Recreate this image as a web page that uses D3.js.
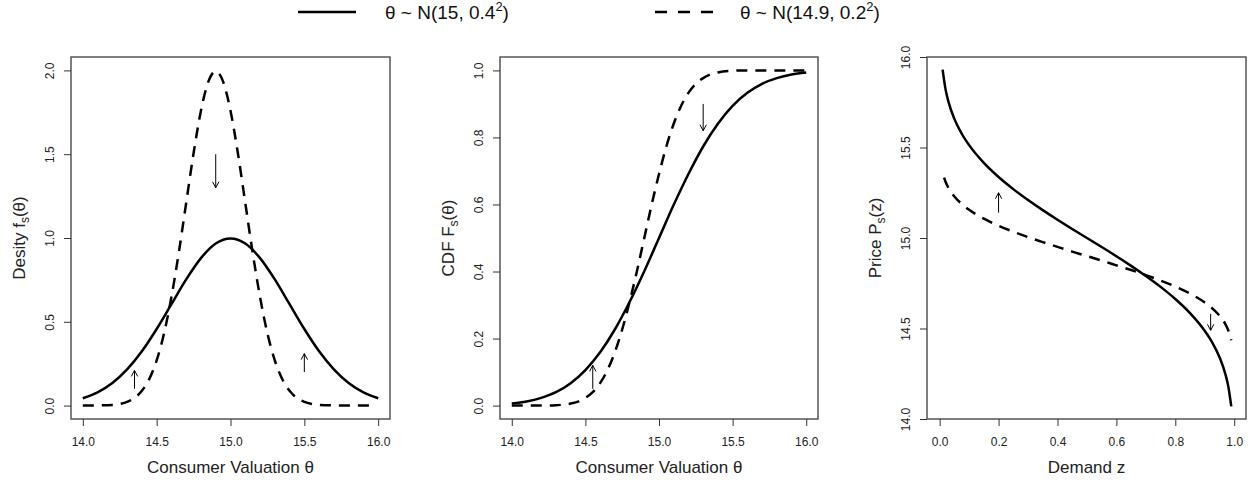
<!DOCTYPE html>
<html><head><meta charset="utf-8">
<script src="https://cdn.jsdelivr.net/npm/d3@7"></script>
<style>body{margin:0;background:#fff}svg{display:block}text{font-family:"Liberation Sans",Arial,sans-serif}</style>
</head><body>
<svg id="c" width="1258" height="484"></svg>
<script>
// ---- data ----
const legendLabels = [["θ ~ N(15, 0.4", "2", ")"], ["θ ~ N(14.9, 0.2", "2", ")"]];

// Panel 1: density
const densX_solid = [14.0,14.1,14.2,14.3,14.4,14.5,14.6,14.7,14.8,14.9,15.0,15.1,15.2,15.3,15.4,15.5,15.6,15.7,15.8,15.9,16.0];
const densY_solid = [0.044,0.079,0.135,0.216,0.324,0.457,0.605,0.753,0.880,0.967,0.997,0.967,0.880,0.753,0.605,0.457,0.324,0.216,0.135,0.079,0.044];
const densX_dash = [14.0,14.1,14.2,14.25,14.3,14.35,14.4,14.45,14.5,14.55,14.6,14.65,14.7,14.75,14.8,14.85,14.9,14.95,15.0,15.05,15.1,15.15,15.2,15.25,15.3,15.35,15.4,15.45,15.5,15.55,15.6,15.7,15.8,15.95];
const densY_dash = [0.0,0.001,0.004,0.010,0.022,0.045,0.088,0.159,0.270,0.431,0.648,0.913,1.210,1.506,1.760,1.933,1.995,1.933,1.760,1.506,1.210,0.913,0.648,0.431,0.270,0.159,0.088,0.045,0.022,0.010,0.004,0.001,0.0,0.0];

// Panel 2: CDF
const cdfX_solid = densX_solid;
const cdfY_solid = [0.006,0.012,0.023,0.040,0.067,0.106,0.159,0.227,0.309,0.401,0.500,0.599,0.691,0.773,0.841,0.894,0.933,0.960,0.977,0.988,0.994];
const cdfX_dash = [14.0,14.1,14.2,14.3,14.35,14.4,14.45,14.5,14.55,14.6,14.65,14.7,14.75,14.8,14.85,14.9,14.95,15.0,15.05,15.1,15.15,15.2,15.25,15.3,15.35,15.4,15.5,15.6,15.8,16.0];
const cdfY_dash = [0.0,0.0,0.0,0.001,0.003,0.006,0.012,0.023,0.040,0.067,0.106,0.159,0.227,0.309,0.401,0.500,0.599,0.691,0.773,0.841,0.894,0.933,0.960,0.977,0.988,0.994,0.999,1.0,1.0,1.0];

// Panel 3: inverse demand
const demZ_solid = [0.01,0.02,0.03,0.05,0.075,0.1,0.15,0.2,0.25,0.3,0.35,0.4,0.45,0.5,0.55,0.6,0.65,0.7,0.75,0.8,0.85,0.9,0.925,0.95,0.97,0.98,0.99];
const demP_solid = [15.930,15.821,15.752,15.658,15.576,15.513,15.415,15.337,15.270,15.210,15.154,15.101,15.050,15.000,14.950,14.899,14.846,14.790,14.730,14.663,14.585,14.487,14.424,14.342,14.248,14.179,14.070];
const demZ_dash = [0.015,0.02,0.03,0.05,0.075,0.1,0.15,0.2,0.25,0.3,0.35,0.4,0.45,0.5,0.55,0.6,0.65,0.7,0.75,0.8,0.85,0.9,0.925,0.95,0.97,0.98,0.99];
const demP_dash = [15.334,15.311,15.276,15.229,15.188,15.156,15.107,15.068,15.035,15.005,14.977,14.951,14.925,14.900,14.875,14.849,14.823,14.795,14.765,14.732,14.693,14.644,14.612,14.571,14.524,14.489,14.435];

// tick values
const thetaTicks = [14.0,14.5,15.0,15.5,16.0];
const densTicks = [0.0,0.5,1.0,1.5,2.0];
const cdfTicks = [0.0,0.2,0.4,0.6,0.8,1.0];
const zTicks = [0.0,0.2,0.4,0.6,0.8,1.0];
const priceTicks = [14.0,14.5,15.0,15.5,16.0];

// arrows [x, yFrom, yTo]
const arrows1 = [[14.9,1.50,1.30],[14.35,0.10,0.21],[15.5,0.20,0.31]];
const arrows2 = [[14.55,0.05,0.12],[15.3,0.90,0.82]];
const arrows3 = [[0.2,15.14,15.25],[0.92,14.58,14.49]];

// ---- drawing ----
const svg = d3.select("#c");
const fmt = d3.format(".1f");
const DASH = "11,8";

function panel(o){
  const g = svg.append("g");
  const x = d3.scaleLinear().domain(o.xd).range([o.l, o.r]);
  const y = d3.scaleLinear().domain(o.yd).range([o.b, o.t]);
  const line = d3.line().x(d=>x(d[0])).y(d=>y(d[1])).curve(d3.curveMonotoneX);
  o.series.forEach(s=>{
    g.append("path").datum(s.x.map((v,i)=>[v,s.y[i]]))
      .attr("d", line).attr("fill","none").attr("stroke","#000")
      .attr("stroke-width",2.5).attr("stroke-dasharray", s.dash ? DASH : null);
  });
  // arrows
  o.arrows.forEach(a=>{
    const x0=x(a[0]), y0=y(a[1]), y1=y(a[2]);
    const dir = y1<y0 ? 1 : -1;
    const hl=6, hw=3.2;
    g.append("path").attr("d",`M${x0},${y0}L${x0},${y1}M${x0-hw},${y1+dir*hl}L${x0},${y1}L${x0+hw},${y1+dir*hl}`)
      .attr("fill","none").attr("stroke","#000").attr("stroke-width",1);
  });
  // box
  g.append("rect").attr("x",o.l).attr("y",o.t).attr("width",o.r-o.l).attr("height",o.b-o.t)
    .attr("fill","none").attr("stroke","#555").attr("stroke-width",1.5);
  // x axis
  const xa = g.append("g").attr("transform",`translate(0,${o.b})`)
    .call(d3.axisBottom(x).tickValues(o.xt).tickFormat(fmt).tickSize(7).tickPadding(4));
  xa.select(".domain").remove();
  xa.selectAll(".tick line").attr("stroke","#333");
  xa.selectAll(".tick text").attr("font-size",12).attr("fill","#222").attr("font-family","Liberation Sans, Arial, sans-serif")
    .attr("dy",null).attr("y",26.5);
  // y axis
  const ya = g.append("g").attr("transform",`translate(${o.l},0)`)
    .call(d3.axisLeft(y).tickValues(o.yt).tickFormat(fmt).tickSize(7));
  ya.select(".domain").remove();
  ya.selectAll(".tick line").attr("stroke","#333");
  ya.selectAll(".tick text").attr("font-size",12).attr("fill","#222").attr("font-family","Liberation Sans, Arial, sans-serif")
    .attr("x",null).attr("dy",null).attr("text-anchor","middle")
    .attr("transform","translate(-17,0) rotate(-90)");
  // titles
  g.append("text").attr("x",(o.l+o.r)/2).attr("y",473).attr("text-anchor","middle")
    .attr("font-size",17).attr("fill","#222").text(o.xTitle);
  const yt = g.append("text").attr("transform",`translate(${o.l-46},${(o.t+o.b)/2}) rotate(-90)`)
    .attr("text-anchor","middle").attr("font-size",17).attr("fill","#222");
  yt.append("tspan").text(o.yTitle[0]);
  yt.append("tspan").attr("font-size",12).attr("dy",4).text(o.yTitle[1]);
  yt.append("tspan").attr("dy",-4).text(o.yTitle[2]);
}

panel({l:71,r:390,t:57,b:419,xd:[13.92,16.08],yd:[-0.08,2.08],xt:thetaTicks,yt:densTicks,
  series:[{x:densX_solid,y:densY_solid},{x:densX_dash,y:densY_dash,dash:true}],
  arrows:arrows1,xTitle:"Consumer Valuation θ",yTitle:["Desity f","s","(θ)"]});
panel({l:500,r:818,t:57,b:419,xd:[13.92,16.08],yd:[-0.04,1.04],xt:thetaTicks,yt:cdfTicks,
  series:[{x:cdfX_solid,y:cdfY_solid},{x:cdfX_dash,y:cdfY_dash,dash:true}],
  arrows:arrows2,xTitle:"Consumer Valuation θ",yTitle:["CDF F","s","(θ)"]});
panel({l:927,r:1246,t:57,b:419,xd:[-0.043,1.04],yd:[14,16],xt:zTicks,yt:priceTicks,
  series:[{x:demZ_solid,y:demP_solid},{x:demZ_dash,y:demP_dash,dash:true}],
  arrows:arrows3,xTitle:"Demand z",yTitle:["Price P","s","(z)"]});

// legend
const leg = svg.append("g");
const legItems = [{x1:298,x2:356,tx:385,dash:false},{x1:655,x2:713,tx:740,dash:true}];
legItems.forEach((it,i)=>{
  leg.append("line").attr("x1",it.x1).attr("x2",it.x2).attr("y1",12).attr("y2",12)
    .attr("stroke","#000").attr("stroke-width",2.5).attr("stroke-dasharray", it.dash ? "12,11" : null);
  const t = leg.append("text").attr("x",it.tx).attr("y",19).attr("font-size",19).attr("fill","#111");
  t.append("tspan").text(legendLabels[i][0]);
  t.append("tspan").attr("font-size",13).attr("dy",-8).text(legendLabels[i][1]);
  t.append("tspan").attr("dy",8).text(legendLabels[i][2]);
});
</script>
</body></html>
